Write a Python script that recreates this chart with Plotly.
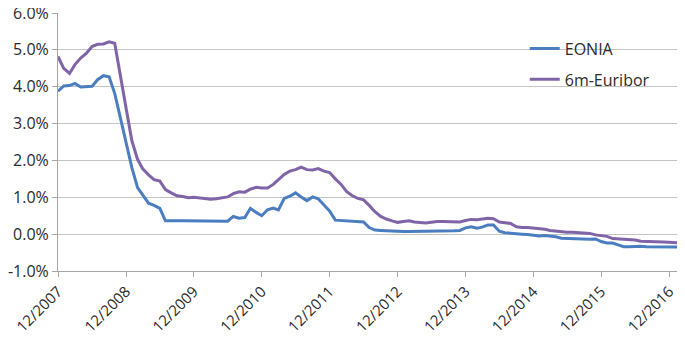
import pandas as pd
import plotly.graph_objects as go

# Monthly averages, Dec 2007 - Feb 2017, in percent
eonia = [
    3.88,
    4.02, 4.03, 4.09, 3.99, 4.01, 4.01, 4.19, 4.30, 4.27, 3.82, 3.15, 2.49,
    1.81, 1.26, 1.06, 0.84, 0.78, 0.70, 0.36, 0.35, 0.36, 0.36, 0.36, 0.35,
    0.34, 0.34, 0.35, 0.35, 0.34, 0.35, 0.48, 0.43, 0.45, 0.70, 0.59, 0.50,
    0.66, 0.71, 0.66, 0.97, 1.03, 1.12, 1.01, 0.91, 1.01, 0.96, 0.79, 0.63,
    0.38, 0.37, 0.36, 0.35, 0.34, 0.33, 0.18, 0.11, 0.10, 0.09, 0.08, 0.07,
    0.07, 0.07, 0.07, 0.08, 0.08, 0.09, 0.09, 0.08, 0.08, 0.09, 0.10, 0.17,
    0.20, 0.16, 0.19, 0.25, 0.25, 0.08, 0.04, 0.02, 0.01, 0.00, -0.01, -0.03,
    -0.05, -0.04, -0.05, -0.07, -0.11, -0.12, -0.12, -0.12, -0.14, -0.14, -0.13, -0.20,
    -0.24, -0.24, -0.29, -0.34, -0.34, -0.33, -0.33, -0.34, -0.34, -0.35, -0.35, -0.35,
    -0.35, -0.35,
]
euribor6m = [
    4.82,
    4.50, 4.36, 4.60, 4.78, 4.90, 5.09, 5.15, 5.16, 5.22, 5.18, 4.29, 3.37,
    2.54, 2.03, 1.77, 1.61, 1.48, 1.44, 1.21, 1.12, 1.04, 1.02, 0.99, 1.00,
    0.98, 0.96, 0.95, 0.96, 0.98, 1.01, 1.10, 1.15, 1.14, 1.22, 1.27, 1.25,
    1.25, 1.35, 1.48, 1.62, 1.71, 1.75, 1.82, 1.75, 1.74, 1.78, 1.71, 1.67,
    1.50, 1.35, 1.16, 1.04, 0.97, 0.93, 0.78, 0.61, 0.48, 0.41, 0.36, 0.32,
    0.34, 0.36, 0.33, 0.32, 0.30, 0.32, 0.34, 0.34, 0.34, 0.34, 0.33, 0.37,
    0.40, 0.39, 0.41, 0.43, 0.42, 0.33, 0.31, 0.29, 0.20, 0.18, 0.18, 0.17,
    0.15, 0.13, 0.10, 0.08, 0.06, 0.05, 0.05, 0.04, 0.04, 0.02, -0.02, -0.04,
    -0.06, -0.12, -0.13, -0.14, -0.14, -0.16, -0.19, -0.19, -0.20, -0.21, -0.21, -0.22,
    -0.24, -0.24,
]
dates = pd.date_range(start="2007-12-01", periods=len(eonia), freq="MS")

tick_dates = ["2007-12-01", "2008-12-01", "2009-12-01", "2010-12-01", "2011-12-01",
              "2012-12-01", "2013-12-01", "2014-12-01", "2015-12-01", "2016-12-01"]
tick_labels = ["12/2007", "12/2008", "12/2009", "12/2010", "12/2011",
               "12/2012", "12/2013", "12/2014", "12/2015", "12/2016"]
y_ticks = [-1, 0, 1, 2, 3, 4, 5, 6]
y_labels = ["-1.0%", "0.0%", "1.0%", "2.0%", "3.0%", "4.0%", "5.0%", "6.0%"]

FONT = "Open Sans"
TXT = "#2b2b2b"
AXIS = "#A6A6A6"

fig = go.Figure()
fig.add_trace(go.Scatter(x=dates, y=eonia, mode="lines", name="EONIA",
                         legendgroup="a",
                         line=dict(color="#4A7EC0", width=3)))
fig.add_trace(go.Scatter(x=dates, y=euribor6m, mode="lines", name="6m-Euribor",
                         legendgroup="b",
                         line=dict(color="#8064A8", width=3)))

# white legend panel hiding the gridlines (as in the original)
fig.add_shape(type="rect", xref="paper", yref="paper",
              x0=0.716, x1=0.998, y0=0.64, y1=0.935,
              fillcolor="white", line=dict(width=0), layer="between")

# the page body has an 8px default margin, so the figure is 8px smaller
fig.update_layout(
    width=677, height=329,
    margin=dict(l=50, r=3, t=5, b=66),
    paper_bgcolor="white", plot_bgcolor="white",
    font=dict(family=FONT, size=15, color=TXT),
    showlegend=True,
    legend=dict(x=0.748, y=0.928, xanchor="left", yanchor="top",
                bgcolor="rgba(0,0,0,0)", font=dict(size=16, color=TXT),
                itemwidth=30, tracegroupgap=7, traceorder="grouped"),
    xaxis=dict(
        type="date", automargin=False, ticklabeloverflow="allow",
        range=["2007-12-01", "2017-02-08"],
        tickvals=tick_dates, ticktext=tick_labels, tickangle=-45,
        showgrid=False, showline=True, linecolor=AXIS, linewidth=1,
        ticks="outside", ticklen=5, tickcolor=AXIS,
        tickfont=dict(size=15, color=TXT),
    ),
    yaxis=dict(
        automargin=False, ticklabeloverflow="allow",
        range=[-1, 6], tickvals=y_ticks, ticktext=y_labels,
        showgrid=True, gridcolor="#C4C4C4", gridwidth=1,
        showline=True, linecolor=AXIS, linewidth=1,
        zeroline=False, ticks="outside", ticklen=5, tickcolor=AXIS,
        tickfont=dict(size=16, color=TXT),
    ),
)

fig.write_html("out.html")
